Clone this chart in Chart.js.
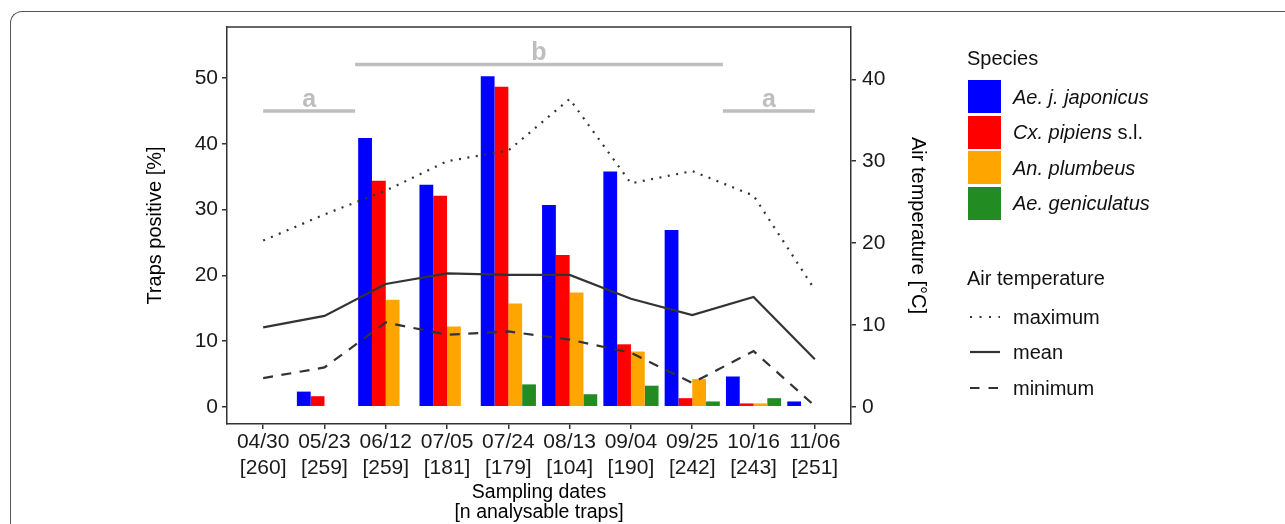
<!DOCTYPE html>
<html>
<head>
<meta charset="utf-8">
<script src="https://cdn.jsdelivr.net/npm/chart.js@4.4.0/dist/chart.umd.min.js"></script>
<style>
  html, body { margin: 0; padding: 0; background: #fff; overflow: hidden; }
  #wrap { position: relative; width: 1285px; height: 524px; font-family: "Liberation Sans", Arial, Helvetica, sans-serif; }
  #frame { position: absolute; left: 10px; top: 11px; width: 1400px; height: 700px;
           border-left: 1.5px solid #555; border-top: 1.5px solid #555; border-top-left-radius: 12px; }
  canvas { position: absolute; left: 0; top: 0; }
  .lg { position: absolute; font-size: 20px; line-height: 24px; color: #111; white-space: nowrap; }
  .sw { position: absolute; width: 33px; height: 33px; }
</style>
</head>
<body>
<div id="wrap">
  <div id="frame"></div>
  <canvas id="chart" width="1285" height="524"></canvas>
  <div id="legend"></div>
</div>
<script>
// sampling dates and number of analysable traps
const dates = ['04/30', '05/23', '06/12', '07/05', '07/24', '08/13', '09/04', '09/25', '10/16', '11/06'];
const nTraps = [260, 259, 259, 181, 179, 104, 190, 242, 243, 251];

// traps positive [%]
const aeJaponicus   = [0, 2.3, 40.9, 33.8, 50.3, 30.7, 35.8, 26.9, 4.6, 0.8];
const cxPipiens     = [0, 1.6, 34.4, 32.1, 48.7, 23.1, 9.5, 1.3, 0.5, 0];
const anPlumbeus    = [0, 0, 16.3, 12.2, 15.7, 17.4, 8.4, 4.2, 0.5, 0];
const aeGeniculatus = [0, 0, 0, 0, 3.4, 1.9, 3.2, 0.8, 1.3, 0];

// air temperature [°C]
const tempMax  = [20.3, 23.5, 26.4, 30.0, 31.3, 37.6, 27.3, 28.8, 25.8, 14.3];
const tempMean = [9.7, 11.1, 15.0, 16.3, 16.1, 16.1, 13.2, 11.2, 13.4, 5.8];
const tempMin  = [3.5, 4.8, 10.3, 8.8, 9.2, 8.2, 6.6, 2.9, 6.8, 0.1];

// significance groups (x in sampling index, level in % axis)
const sigLetters = ['a', 'b', 'a'];
const sigStart = [0, 1.5, 7.5];
const sigEnd = [1.5, 7.5, 9];
const sigLevel = [45, 52.1, 45];

const speciesNames = ['Ae. j. japonicus', 'Cx. pipiens', 'An. plumbeus', 'Ae. geniculatus'];
const speciesSuffix = ['', ' s.l.', '', ''];
const speciesColors = ['#0000ff', '#ff0000', '#ffa500', '#228b22'];
const speciesValues = [aeJaponicus, cxPipiens, anPlumbeus, aeGeniculatus];

const tempNames = ['maximum', 'mean', 'minimum'];
const tempValues = [tempMax, tempMean, tempMin];
const tempDash = [[2, 6.5], [], [10, 8.5]];
const tempLegendDash = ['2 7.5', 'none', '9.5 9'];

const FONT = '"Liberation Sans", Arial, Helvetica, sans-serif';
Chart.defaults.font.family = FONT;
Chart.defaults.color = '#1a1a1a';

const toXY = arr => arr.map((v, i) => ({ x: i, y: v }));

const datasets = [];
speciesValues.forEach((vals, k) => {
  datasets.push({
    type: 'bar',
    label: speciesNames[k],
    data: toXY(vals),
    backgroundColor: speciesColors[k],
    borderWidth: 0,
    yAxisID: 'y',
    categoryPercentage: 0.9,
    barPercentage: 1.0,
    order: 2
  });
});
tempValues.forEach((vals, k) => {
  datasets.push({
    type: 'line',
    label: tempNames[k],
    data: toXY(vals),
    borderColor: '#333333',
    borderWidth: 2.2,
    borderDash: tempDash[k],
    pointRadius: 0,
    fill: false,
    tension: 0,
    yAxisID: 'y2',
    order: 1
  });
});
sigLetters.forEach((t, k) => {
  datasets.push({
    type: 'line',
    label: 'sig ' + t,
    data: [{ x: sigStart[k], y: sigLevel[k] }, { x: sigEnd[k], y: sigLevel[k] }],
    borderColor: '#bebebe',
    borderWidth: 3.5,
    pointRadius: 0,
    yAxisID: 'y',
    order: 1
  });
});

// letters above the significance bars + top border of the panel
const annotate = {
  id: 'annotate',
  afterDatasetsDraw(chart) {
    const { ctx, chartArea, scales } = chart;
    ctx.save();
    ctx.font = 'bold 25px ' + FONT;
    ctx.fillStyle = '#bebebe';
    ctx.textAlign = 'center';
    ctx.textBaseline = 'alphabetic';
    sigLetters.forEach((t, i) => {
      const x = scales.x.getPixelForValue((sigStart[i] + sigEnd[i]) / 2);
      const y = scales.y.getPixelForValue(sigLevel[i]) - 4;
      ctx.fillText(t, x, y);
    });
    ctx.strokeStyle = '#333';
    ctx.lineWidth = 1.5;
    ctx.beginPath();
    ctx.moveTo(chartArea.left, chartArea.top);
    ctx.lineTo(chartArea.right, chartArea.top);
    ctx.stroke();
    ctx.restore();
  }
};

const axisGrid = { drawOnChartArea: false, drawTicks: true, tickLength: 5, color: '#333', lineWidth: 1.5, offset: false };
const axisBorder = { display: true, color: '#333', width: 1.5 };

new Chart(document.getElementById('chart'), {
  type: 'bar',
  data: { datasets: datasets },
  options: {
    responsive: false,
    animation: false,
    layout: { padding: { left: 143, right: 355, top: 27, bottom: 1 } },
    plugins: { legend: { display: false }, tooltip: { enabled: false } },
    scales: {
      x: {
        type: 'linear',
        position: 'bottom',
        offset: false,
        min: -0.59,
        max: 9.59,
        grid: axisGrid,
        border: axisBorder,
        afterBuildTicks: scale => { scale.ticks = dates.map((_, i) => ({ value: i })); },
        afterFit: scale => { scale.height = 99; },
        ticks: {
          padding: 1,
          font: { size: 21 },
          maxRotation: 0,
          autoSkip: false,
          callback: v => [dates[v], '[' + nTraps[v] + ']']
        },
        title: {
          display: true,
          text: ['Sampling dates', '[n analysable traps]'],
          color: '#000',
          font: { size: 19.5, lineHeight: 1.03 },
          padding: 0
        }
      },
      y: {
        position: 'left',
        min: -2.63,
        max: 57.8,
        grid: axisGrid,
        border: axisBorder,
        afterFit: scale => { scale.width = 84; },
        ticks: { stepSize: 10, includeBounds: false, padding: 4, font: { size: 21 } },
        title: { display: true, text: 'Traps positive [%]', color: '#000', font: { size: 20 }, padding: 0 }
      },
      y2: {
        position: 'right',
        min: -2.11,
        max: 46.4,
        grid: axisGrid,
        border: axisBorder,
        afterFit: scale => { scale.width = 79; },
        ticks: { stepSize: 10, includeBounds: false, padding: 6, font: { size: 21 } },
        title: { display: true, text: 'Air temperature [°C]', color: '#000', font: { size: 20 }, padding: 0 }
      }
    }
  },
  plugins: [annotate]
});

// legend (HTML)
const lg = document.getElementById('legend');
function addDiv(cls, style, html) {
  const d = document.createElement('div');
  d.className = cls;
  Object.assign(d.style, style);
  if (html !== undefined) d.innerHTML = html;
  lg.appendChild(d);
  return d;
}
addDiv('lg', { left: '967px', top: '46px' }, 'Species');
speciesNames.forEach((name, k) => {
  const top = 80 + k * 35.6;
  addDiv('sw', { left: '968px', top: top + 'px', background: speciesColors[k] });
  addDiv('lg', { left: '1013px', top: (top + 16.5 - 12) + 'px' }, '<i>' + name + '</i>' + speciesSuffix[k]);
});
addDiv('lg', { left: '967px', top: '266px' }, 'Air temperature');
tempNames.forEach((name, k) => {
  const cy = 317 + k * 35.4;
  addDiv('lg', { left: '968px', top: (cy - 12) + 'px', width: '34px', height: '24px' },
    '<svg width="34" height="24"><line x1="2" y1="12" x2="32" y2="12" stroke="#333" stroke-width="2.2" stroke-dasharray="' +
    tempLegendDash[k] + '"/></svg>');
  addDiv('lg', { left: '1013px', top: (cy - 12) + 'px' }, name);
});
</script>
</body>
</html>
